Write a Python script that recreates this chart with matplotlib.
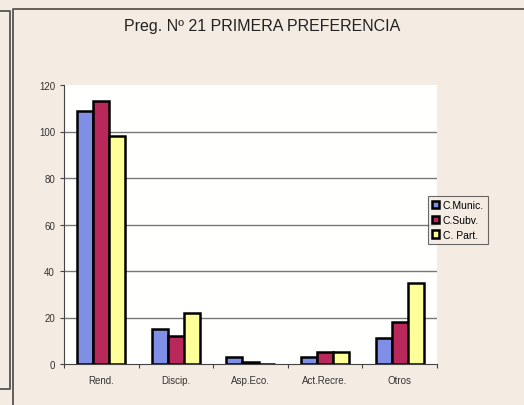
import matplotlib.pyplot as plt
import numpy as np

plt.rcParams['font.family'] = ['Liberation Sans', 'DejaVu Sans']

categories = ['Rend.', 'Discip.', 'Asp.Eco.', 'Act.Recre.', 'Otros']
series = ['C.Munic.', 'C.Subv.', 'C. Part.']
munic = [109, 15, 3, 3, 11]
subv = [113, 12, 1, 5, 18]
part = [98, 22, 0, 5, 35]
colors = ['#7f8fe6', '#b8285a', '#ffff99']

W, H = 524, 406
fig = plt.figure(figsize=(W / 100, H / 100), dpi=100)
bg = '#f4ece2'
fig.patch.set_facecolor(bg)


def fline(xs, ys):
    fig.add_artist(plt.Line2D([v / W for v in xs], [1 - v / H for v in ys],
                              transform=fig.transFigure, color='#555555', linewidth=1.3))


# scanned page frame lines
fline([13, 13, W], [H, 10, 10])
fline([0, 10, 10, 0], [12, 12, 390, 390])

ax = fig.add_axes([64 / W, 1 - 365 / H, 373 / W, 279 / H])
ax.set_facecolor('#fffffd')

x = np.arange(len(categories))
w = 0.215
for i, (vals, c, name) in enumerate(zip([munic, subv, part], colors, series)):
    ax.bar(x + (i - 1) * w, vals, w, color=c, edgecolor='black', linewidth=1.8,
           label=name, zorder=3)

ax.set_xlim(-0.5, len(categories) - 0.5)
ax.set_ylim(0, 120)
ax.set_yticks(np.arange(0, 121, 20))
for v in range(20, 120, 20):
    ax.axhline(v, color='#777777', linewidth=1.0, zorder=0)
ax.set_xticks(np.arange(-0.5, len(categories), 1), minor=False)
ax.set_xticklabels([])
ax.set_xticks(x, minor=True)
ax.set_xticklabels(categories, minor=True)
ax.tick_params(axis='x', which='minor', length=0, pad=8, labelsize=7, colors='#333333')
ax.tick_params(axis='x', which='major', length=3, direction='out', color='#444444')
ax.tick_params(axis='y', length=3, direction='out', labelsize=7, colors='#333333',
               color='#444444')
for s in ['top', 'right']:
    ax.spines[s].set_visible(False)
ax.spines['left'].set_color('#444444')
ax.spines['bottom'].set_color('#444444')

fig.text(0.5, 1 - 27 / H, 'Preg. Nº 21 PRIMERA PREFERENCIA', ha='center', va='center',
         fontsize=11.5, color='#222222')

leg = fig.legend(loc='center left', bbox_to_anchor=(428 / W, 1 - 221 / H),
                 fontsize=7.5, frameon=True, handlelength=0.7, handleheight=0.7,
                 handletextpad=0.3, borderpad=0.4, labelspacing=0.45, borderaxespad=0)
leg.get_frame().set_facecolor(bg)
leg.get_frame().set_edgecolor('#444444')
leg.get_frame().set_boxstyle('square', pad=0)
leg.get_frame().set_linewidth(0.8)

fig.savefig('out.png', dpi=100, facecolor=bg)
